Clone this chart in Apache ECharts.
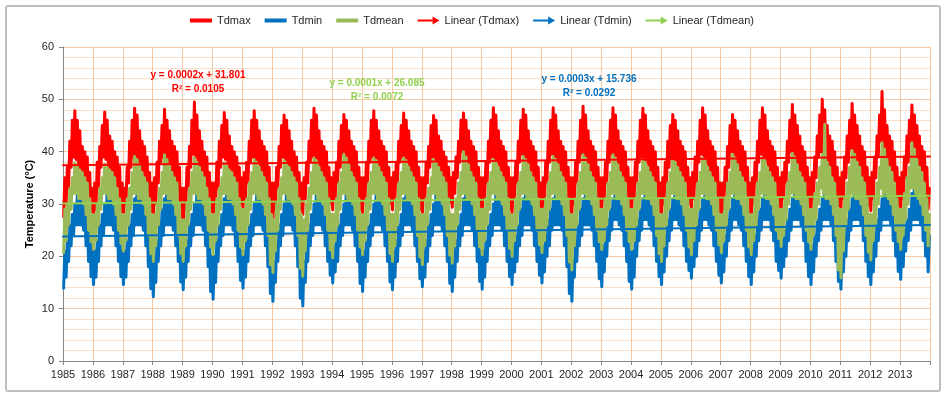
<!DOCTYPE html>
<html><head><meta charset="utf-8">
<script src="https://cdn.jsdelivr.net/npm/echarts@6/dist/echarts.min.js"></script>
<style>html,body{margin:0;padding:0;background:#fff}#c{width:944px;height:398px}</style>
</head><body><div id="c"></div>
<script>
// Years on the x axis (each year: 12 months, two readings per month: low / high extent of the daily values)
const years = [1985,1986,1987,1988,1989,1990,1991,1992,1993,1994,1995,1996,1997,1998,1999,2000,2001,2002,2003,2004,2005,2006,2007,2008,2009,2010,2011,2012,2013];
const legendNames = ['Tdmax','Tdmin','Tdmean','Linear (Tdmax)','Linear (Tdmin)','Linear (Tdmean)'];

// Tdmax, monthly upper extent (Jan..Dec per line)
const tdmaxHi = [
35,37,42,46,47.8,46,44,41,40,39,36,33,
34,38,41,45,47.6,46,43,42,40,39,37,34,
33,37,42,46,48.3,47,44,42,41,39,36,34,
35,38,42,45,48.1,46,44,42,41,40,37,33,
33,37,41,46,49.5,47,44,42,40,39,36,34,
34,38,42,45,47.5,46,43,41,40,39,37,35,
36,38,42,46,47.8,46,44,42,41,40,37,34,
34,37,41,45,47,46,44,42,40,39,36,34,
35,38,42,46,48.3,47,44,42,41,40,37,35,
36,38,42,45,47.1,46,44,42,41,40,37,35,
35,38,42,46,47.8,46,44,42,41,40,37,35,
36,38,42,45,47.4,46,44,42,41,40,37,35,
35,38,41,45,46.9,46,43,42,40,39,37,35,
36,39,42,46,47.4,46,44,42,41,40,37,35,
35,38,42,46,48.4,47,44,42,41,40,37,35,
35,38,42,46,48.1,47,44,42,41,40,37,34,
35,38,42,46,48.4,47,44,42,41,40,37,35,
35,38,42,46,48.7,47,44,42,41,40,37,35,
35,38,42,46,48.4,47,44,42,41,40,37,35,
35,38,42,46,48.3,47,44,42,41,40,37,34,
35,38,42,45,47.1,46,44,42,41,40,37,35,
36,39,42,46,48.4,47,44,42,41,40,37,34,
34,37,41,45,47.1,46,44,42,41,40,37,34,
35,38,42,46,48.4,47,44,42,41,40,37,35,
36,38,42,46,49,47,45,43,41,40,37,35,
36,39,43,47,50,48,45,43,42,40,37,35,
36,39,43,46,49.2,47,45,43,41,40,37,35,
36,39,43,47,51.5,48,45,43,42,40,37,35,
36,39,43,46,48.9,47,45,43,41,40,37,33];
// Tdmax, monthly lower extent
const tdmaxLo = [
27.6,30,33,37,39,38.5,37,36,35,33,30,27,
26,29,33,37,39,38.5,37,35,34,33,30,27,
26,30,34,37,39,38.5,37,36,35,33,30,28.5,
27.4,30,34,38,39,38.5,38,36,35,33,30,25.5,
24.5,29,33,37,39.5,39,37,36,35,33,30,28,
27,30,33,37,39,38.5,37,35,34,33,31,30,
28.9,31,34,38,39,38.5,38,36,35,33,30,27,
26,29,33,37,39,38.5,37,36,35,33,31,29,
28,31,34,38,39,38.5,38,36,35,34,31,30,
28.9,31,34,37,39.5,39,37,36,35,33,31,29,
28,31,34,38,39,38.5,38,36,35,34,31,30,
28.9,31,34,38,39,38.5,38,36,35,33,31,29,
28,31,34,37,39,38.5,37,36,35,33,31,30.4,
29.4,32,35,38,40,39,38,36,35,34,31,29,
28,31,34,38,39,38.5,38,36,35,34,31,29,
28,31,34,38,39.5,39,38,36,35,33,31,28.4,
27.4,30,34,38,39.5,39,38,36,35,33,30,28.6,
27.6,30,34,38,39.5,39,38,36,35,34,31,29.3,
28.3,31,34,38,39.5,39,38,36,35,34,31,29,
28,31,34,38,39,38.5,38,36,35,33,30,28.4,
27.4,30,34,37,39,38.5,37,36,35,34,31,29.9,
28.9,31,34,38,39.5,39,38,36,35,33,30,27.4,
26.4,29,33,37,40,39.5,37,36,35,33,30,28.4,
27.4,30,34,38,39.5,39,38,36,35,34,31,29.3,
28.3,31,34,38,40,39.5,38,36,35,34,31,29.3,
28.3,31,35,39,40,39.5,38,37,35,34,31,29.7,
28.7,31,35,38,40.5,40,38,37,35,34,31,29.7,
28.7,31,35,39,42,41,39,37,35,34,31,29.7,
28.7,31,35,38,42,41,38,37,35,34,31,29];

// Tdmin, monthly upper extent
const tdminHi = [
21,23,26,28,30,31.8,31.3,31,30,29,26,22,
21,23,26,28,30,32.8,32,31,31,29,26,21,
21,23,26,28,31,33.3,32.5,31,31,29,25,20,
20,23,26,29,31,34.3,33,32,31,29,26,21,
21,23,26,28,30,32.8,32,31,31,29,25,20,
20,23,26,28,31,33.6,32.5,31,31,29,26,21,
21,23,26,28,30,31.8,31.3,31,30,28,25,20,
19,22,26,28,30,33.1,32.5,31,31,29,25,19,
19,22,26,28,30,32.8,32,31,31,29,26,22,
22,24,26,28,30,33.3,32.5,31,31,29,26,21,
21,23,26,28,30,32.8,32,31,31,29,26,21,
21,23,26,28,31,33.3,32.5,31,31,29,26,21,
21,23,26,28,30,33.1,32.5,31,31,29,26,21,
21,23,26,28,31,33.3,32.5,31,31,29,26,21,
21,23,26,28,30,32.5,32,31,31,29,26,22,
22,24,26,29,31,34.1,33,32,31,29,26,22,
22,24,27,29,31,33.3,32.5,31,31,29,25,20,
19,23,26,29,31,33.3,32.5,32,31,29,26,22,
22,24,27,29,31,34.1,33,32,31,29,26,21,
21,24,27,29,31,33.3,32.5,32,31,29,26,22,
22,24,27,29,31,34.1,33,32,31,29,26,23,
23,25,27,29,31,33.3,32.5,32,31,29,26,22,
22,24,27,29,31,33.6,33,32,31,29,26,22,
22,24,27,29,31,33.3,32.5,32,31,29,26,23,
23,25,27,29,31,33.3,32.5,32,31,30,26,22,
22,24,27,29,31,34.1,33,32,32,30,26,22,
21,24,27,29,31,34.1,33,32,32,30,26,22,
22,24,27,29,31,34.1,33,32,32,30,26,23,
23,25,27,29,32,34.1,33,32,32,30,27,24];
// Tdmin, monthly lower extent
const tdminLo = [
13.9,16,19,22,24,26,26,26,25,22,19,16.1,
14.6,16,19,22,24,26,26,26,25,22,19,16.1,
14.6,16,19,22,24,26,26,26,25,22,18,13.8,
12.3,15,19,22,24,26,26,26,25,22,19,15.1,
13.6,16,19,22,24,26,26,26,25,22,18,13.3,
11.8,15,19,22,24,26,26,26,25,22,19,15.4,
13.9,16,19,22,24,26,26,26,25,22,18,12.9,
11.4,15,19,22,24,26,26,26,25,22,18,12,
10.5,15,19,22,24,26,26,26,25,22,19,16.4,
14.9,17,19,22,24,26,26,26,25,22,19,14.8,
13.3,16,19,22,24,26,26,26,25,22,19,15.1,
13.6,16,19,22,24,26,26,26,25,22,19,15.7,
14.2,16,19,22,24,26,26,26,25,22,19,14.8,
13.3,16,19,22,24,26,26,26,25,22,19,15.2,
13.7,16,19,22,24,26,26,26,25,22,19,16.1,
14.6,17,19,22,24,26,26,26,25,22,19,16.4,
14.9,17,20,22,25,26,26,26,25,22,18,12.9,
11.4,16,19,22,24,26,26,26,25,22,19,15.7,
14.2,17,20,23,25,27,27,26,25,22,19,15.2,
13.7,16,20,23,25,27,27,26,25,22,19,16.1,
14.6,17,20,23,25,27,27,26,25,22,19,17.3,
15.8,18,20,23,25,27,27,26,25,22,19,16.4,
14.9,17,20,23,25,27,27,26,25,22,19,16.1,
14.6,17,20,23,25,27,27,27,25,23,19,17.3,
15.8,18,20,23,25,27,27,27,26,23,19,16.1,
14.6,17,20,23,25,27,27,27,26,23,19,15.2,
13.7,17,20,23,25,27,27,27,26,23,19,16.1,
14.6,17,20,23,25,27,27,27,26,23,20,17.1,
15.6,18,21,23,25,27,27,27,26,23,20,17];

// Tdmean, monthly upper extent
const tdmeanHi = [
29,30,33,35,37.9,37.4,36.5,36,35,34,31,28,
28,30,33,35,37.6,37,36.5,36,35,33,31,28,
28,31,33,36,39.1,38.5,37.5,36,35,34,31,28,
28,30,33,36,39.4,38.5,37.5,36,35,34,30,27,
27,30,33,36,38.8,38,37,36,35,33,31,28,
28,31,33,35,37.9,37.4,36.5,36,35,34,31,29,
29,31,34,36,38.5,38,37,36,35,34,31,28,
27,30,33,35,38.3,37.8,37,36,35,34,31,28,
27,30,33,36,38.8,38.3,37,36,35,34,31,28,
28,31,34,36,39.5,38.8,37.5,36,35,34,31,28,
28,31,34,36,38.8,38.3,37,36,35,34,31,28,
28,31,34,36,38.8,38.3,37,36,35,34,31,28,
28,31,33,35,38.5,38,37,36,35,34,31,28,
28,31,34,36,40,39,37.5,36,35,34,31,29,
29,31,34,36,38.5,38,37,36,35,34,31,28,
28,31,34,36,39.1,38.5,37.5,36,35,34,31,29,
29,31,34,36,39.1,38.5,37.5,36,35,34,31,28,
28,31,34,36,39.4,38.8,37.5,36,35,34,31,29,
29,31,34,36,39.4,38.8,37.5,36,35,34,31,29,
29,31,34,36,38.5,38,37,36,35,34,31,28,
28,31,34,36,38.5,38,37,36,35,34,31,29,
29,31,34,36,38.8,38.3,37,36,35,34,31,28,
28,31,34,36,39.5,38.8,37.5,36,35,34,31,28,
28,31,34,36,38.8,38.3,37,36,35,34,31,29,
29,31,34,36,39.7,39,37.5,36,35,34,31,29,
29,32,34,37,39.5,45.2,38,37,35,34,31,29,
29,31,34,37,40.2,39.5,38,37,35,34,31,28,
28,31,34,37,41.7,40.5,38.5,37,36,34,31,29,
29,32,35,37,41.7,40.5,38.5,37,36,34,31,28];
// Tdmean, monthly lower extent
const tdmeanLo = [
20.7,23,26,29,32,32,31,31,30,28,25,22.8,
21.3,23,26,29,32,32,31,31,30,28,25,22.5,
21,23,26,29,32,32,31,31,30,28,24,20.5,
19,22,26,29,32,32,31,31,30,28,24,20.5,
19,22,26,29,32,32,31,31,30,28,25,21.8,
20.3,23,26,29,32,32,31,31,30,28,25,21.8,
20.3,23,26,29,32,32,31,31,30,28,24,18.4,
16.9,21,25,29,32,32,31,31,30,28,24,17.7,
16.2,21,25,29,32,32,31,31,30,28,25,21.2,
19.7,23,26,29,32,32,31,31,30,28,25,21.8,
20.3,23,26,29,32,32,31,31,30,28,25,20.5,
19,22,26,29,32,32,31,31,30,28,24,19.9,
18.4,22,26,29,32,32,31,31,30,28,24,20.2,
18.7,22,26,29,32,32,31,31,30,28,25,21.8,
20.3,23,26,29,32,32,31,31,30,28,25,21.5,
20,23,26,29,32,32,31,31,30,28,25,22.2,
20.7,23,26,29,32,32,31,31,30,28,24,18.9,
17.4,22,26,29,32,32,31,31,30,28,25,22.8,
21.3,23,26,29,32,32,31,31,30,28,25,22.8,
21.3,23,26,29,32,32,31,31,30,28,24,20.5,
19,22,26,29,32,32,31,31,30,28,25,21.8,
20.3,23,26,29,32,32,31,31,30,28,25,22.2,
20.7,23,26,29,32,32,31,31,30,28,25,21.8,
20.3,23,26,29,32,32,31,31,30,28,25,23.4,
21.9,24,27,30,32,32,31,31,30,28,25,22.8,
21.3,24,27,30,33,32,31,31,30,28,24,17.4,
15.9,21,26,29,32,32,31,31,30,28,24,20.8,
19.3,23,26,30,33,32,32,31,30,28,25,22.8,
21.3,24,27,30,33,33,32,31,30,28,25,22];

// Linear trend lines: value at start (1985) and end (2014) of the axis
const trendX = [1985, 2014];
const trendTdmax = [37.4, 39.1];
const trendTdmin = [23.8, 26.0];
const trendTdmean = [30.1, 31.6];

// Trend equations shown on the chart
const eqTdmax = ['y = 0.0002x + 31.801', 'R\u00B2 = 0.0105'];
const eqTdmean = ['y = 0.0001x + 26.085', 'R\u00B2 = 0.0072'];
const eqTdmin = ['y = 0.0003x + 15.736', 'R\u00B2 = 0.0292'];

function band(lo, hi) {
  const pts = [];
  for (let i = 0; i < years.length; i++) {
    for (let m = 0; m < 12; m++) {
      const k = i * 12 + m;
      pts.push([years[i] + (m + 0.25) / 12, lo[k]]);
      pts.push([years[i] + (m + 0.75) / 12, hi[k]]);
    }
  }
  return pts;
}
function trend(v) { return [[trendX[0], v[0]], [trendX[1], v[1]]]; }

const RED = '#FF0000', BLUE = '#0070C0', GREEN = '#9BBB59', LGREEN = '#92D050';
const barIcon = 'path://M0,0 L0,0 M0,2 L22,2 L22,6 L0,6 Z M22,8 L22,8';
const arrowIcon = 'path://M0,3 L15,3 L15,0 L22,4 L15,8 L15,5 L0,5 Z';
const FONT = '"Liberation Sans", Arial, sans-serif';

const chart = echarts.init(document.getElementById('c'));
function lineSeries(name, data, color, width, z) {
  return { name, type: 'line', data, showSymbol: false, symbol: 'none', sampling: null,
    lineStyle: { color, width, join: 'round', cap: 'round' }, itemStyle: { color }, z, silent: true, animation: false };
}
const eqText = (lines, x, y, color) => lines.map((t, i) => ({
  type: 'text', x, y: y + i * 14, z: 100,
  style: { text: t, fill: color, font: 'bold 10px ' + FONT, textAlign: 'center', textVerticalAlign: 'middle' }
}));

chart.setOption({
  animation: false,
  backgroundColor: '#fff',
  grid: { left: 63, right: 14, top: 47, bottom: 37 },
  legend: {
    top: 10, left: 'center', itemWidth: 22, itemHeight: 8, itemGap: 14,
    textStyle: { fontSize: 11, color: '#262626', fontFamily: FONT },
    data: [
      { name: legendNames[0], icon: barIcon },
      { name: legendNames[1], icon: barIcon },
      { name: legendNames[2], icon: barIcon },
      { name: legendNames[3], icon: arrowIcon },
      { name: legendNames[4], icon: arrowIcon },
      { name: legendNames[5], icon: arrowIcon }
    ]
  },
  xAxis: {
    type: 'value', min: 1985, max: 2014, interval: 1,
    axisLine: { show: true, onZero: false, lineStyle: { color: '#868686', width: 1 } },
    axisTick: { show: true, length: 4, lineStyle: { color: '#868686' } },
    axisLabel: { fontSize: 11, color: '#262626', fontFamily: FONT, margin: 8,
      formatter: v => (years.indexOf(v) >= 0 ? String(v) : '') },
    splitLine: { show: true, lineStyle: { color: '#FAC8A0', width: 1 } }
  },
  yAxis: {
    type: 'value', min: 0, max: 60, interval: 10,
    name: 'Temperature (\u00B0C)', nameLocation: 'middle', nameGap: 28, nameMoveOverlap: false,
    nameTextStyle: { fontSize: 11, fontWeight: 'bold', color: '#000', fontFamily: FONT },
    axisLine: { show: true, lineStyle: { color: '#868686', width: 1 } },
    axisTick: { show: true, length: 4, lineStyle: { color: '#868686' } },
    axisLabel: { fontSize: 11, color: '#262626', fontFamily: FONT, margin: 9 },
    splitLine: { show: true, lineStyle: { color: '#FAC8A0', width: 1 } },
    minorTick: { show: false, splitNumber: 5 },
    minorSplitLine: { show: true, lineStyle: { color: '#FCDDC3', width: 1 } }
  },
  series: [
    lineSeries(legendNames[0], band(tdmaxLo, tdmaxHi), RED, 3, 2),
    lineSeries(legendNames[1], band(tdminLo, tdminHi), BLUE, 3, 3),
    lineSeries(legendNames[2], band(tdmeanLo, tdmeanHi), GREEN, 3, 4),
    lineSeries(legendNames[3], trend(trendTdmax), RED, 2, 6),
    lineSeries(legendNames[4], trend(trendTdmin), BLUE, 2, 6),
    lineSeries(legendNames[5], trend(trendTdmean), LGREEN, 2, 6)
  ],
  graphic: [
    { type: 'rect', shape: { x: 6, y: 6, width: 934, height: 385, r: 2 },
      style: { fill: 'none', stroke: '#BFBFBF', lineWidth: 2 }, z: 0, silent: true },
    ...eqText(eqTdmax, 198, 75, RED),
    ...eqText(eqTdmean, 377, 83, LGREEN),
    ...eqText(eqTdmin, 589, 79, BLUE)
  ]
});
</script></body></html>
